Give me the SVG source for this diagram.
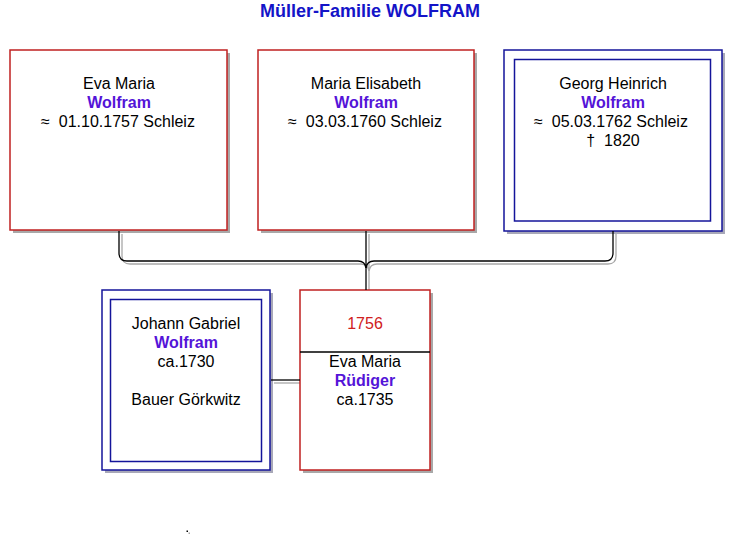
<svg xmlns="http://www.w3.org/2000/svg" width="741" height="551" viewBox="0 0 741 551">
<style>
text{font-family:"Liberation Sans",Arial,sans-serif;font-size:16px;fill:#000;text-anchor:middle}
.title{font-size:18px;font-weight:bold;fill:#1414c8}
.sur{font-weight:bold;fill:#5414d8}
.yr{fill:#d02020}
.box{fill:#fff;stroke:#c02020;stroke-width:1.5}
.bbox{fill:#fff;stroke:#14149a;stroke-width:1.5}
.binner{fill:none;stroke:#14149a;stroke-width:1.5}
.sh{fill:#a8a8a8}
.bsh{fill:#a8a8b8}
.ln{fill:none;stroke:#000;stroke-width:1.3}
.lns{fill:none;stroke:#a8a8a8;stroke-width:1.3}
</style>
<rect width="741" height="551" fill="#fff"/>
<text class="title" x="370" y="17">Müller-Familie WOLFRAM</text>

<g id="connectors-shadow" transform="translate(3,3)">
<path class="lns" d="M119,231 V253 Q119,261 127,261 H358 Q365,261 366,268"/>
<path class="lns" d="M613,231 V253 Q613,261 605,261 H374 Q367,261 366,268"/>
<path class="lns" d="M366,231 V287"/>
<path class="lns" d="M271,380 H297"/>
</g>

<g id="n-eva-maria-wolfram">
<rect class="sh" x="13" y="53" width="217" height="180"/>
<rect class="box" x="10" y="50" width="217" height="180"/>
<text x="119" y="89">Eva Maria</text>
<text class="sur" x="119" y="108">Wolfram</text>
<text x="118" y="127">≈&#160;&#160;01.10.1757 Schleiz</text>
</g>

<g id="n-maria-elisabeth">
<rect class="sh" x="261" y="53" width="216" height="180"/>
<rect class="box" x="258" y="50" width="216" height="180"/>
<text x="366" y="89">Maria Elisabeth</text>
<text class="sur" x="366" y="108">Wolfram</text>
<text x="365" y="127">≈&#160;&#160;03.03.1760 Schleiz</text>
</g>

<g id="n-georg-heinrich">
<rect class="bsh" x="507" y="53" width="218" height="181"/>
<rect class="bbox" x="504" y="50" width="218" height="181"/>
<rect class="binner" x="514.5" y="59.5" width="196" height="161.5"/>
<text x="613" y="89">Georg Heinrich</text>
<text class="sur" x="613" y="108">Wolfram</text>
<text x="611" y="127">≈&#160;&#160;05.03.1762 Schleiz</text>
<text x="613" y="146">†&#160;&#160;1820</text>
</g>

<g id="n-johann-gabriel">
<rect class="bsh" x="105" y="293" width="168" height="180"/>
<rect class="bbox" x="102" y="290" width="168" height="180"/>
<rect class="binner" x="110.5" y="299.5" width="151" height="162"/>
<text x="186" y="329">Johann Gabriel</text>
<text class="sur" x="186" y="348">Wolfram</text>
<text x="186" y="367">ca.1730</text>
<text x="186" y="405">Bauer Görkwitz</text>
</g>

<g id="n-eva-maria-ruediger">
<rect class="sh" x="303" y="293" width="130" height="180"/>
<rect class="box" x="300" y="290" width="130" height="180"/>
<line x1="300" y1="352" x2="430" y2="352" stroke="#000" stroke-width="1.3"/>
<text class="yr" x="365" y="329">1756</text>
<text x="365" y="367">Eva Maria</text>
<text class="sur" x="365" y="386">Rüdiger</text>
<text x="365" y="405">ca.1735</text>
</g>

<g id="connectors">
<path class="ln" d="M119,231 V253 Q119,261 127,261 H358 Q365,261 366,268"/>
<path class="ln" d="M613,231 V253 Q613,261 605,261 H374 Q367,261 366,268"/>
<path class="ln" d="M366,231 V290"/>
<path class="ln" d="M271,380 H300"/>
<rect x="186.5" y="530.5" width="1.5" height="1.5" fill="#000"/>
<rect x="188.5" y="532.5" width="1.5" height="1.5" fill="#a8a8a8"/>
</g>
</svg>
